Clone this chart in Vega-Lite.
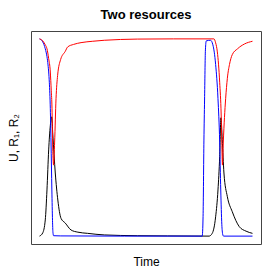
{
  "$schema": "https://vega.github.io/schema/vega-lite/v6.json",
  "width": 230,
  "height": 213,
  "autosize": {"type": "none"},
  "padding": {"left": 31, "top": 31, "right": 16, "bottom": 33},
  "background": "white",
  "config": {"view": {"stroke": "#444", "strokeWidth": 1}, "font": "Liberation Sans"},
  "title": {"text": "Two resources", "font": "Liberation Sans", "fontSize": 13, "fontWeight": "bold", "color": "black", "anchor": "middle", "baseline": "bottom", "frame": "group", "offset": 8, "dy": 12},
  "data": {"values": [
    {"s":"U","t":0,"v":0.0},{"s":"U","t":1.5,"v":0.016},{"s":"U","t":2.7,"v":0.082},{"s":"U","t":3.5,"v":0.234},{"s":"U","t":4.3,"v":0.437},{"s":"U","t":5.07,"v":0.56},{"s":"U","t":5.7,"v":0.605},{"s":"U","t":6.25,"v":0.513},{"s":"U","t":7.4,"v":0.32},{"s":"U","t":8.6,"v":0.183},{"s":"U","t":10.1,"v":0.09},{"s":"U","t":12.1,"v":0.066},{"s":"U","t":14.8,"v":0.031},{"s":"U","t":18,"v":0.02},{"s":"U","t":22.6,"v":0.014},{"s":"U","t":30.4,"v":0.006},{"s":"U","t":45.9,"v":0.002},{"s":"U","t":60,"v":0.001},{"s":"U","t":79.6,"v":0.0},{"s":"U","t":81.1,"v":0.014},{"s":"U","t":82.7,"v":0.098},{"s":"U","t":83.8,"v":0.234},{"s":"U","t":84.6,"v":0.403},{"s":"U","t":85.2,"v":0.6},{"s":"U","t":85.8,"v":0.49},{"s":"U","t":86.6,"v":0.32},{"s":"U","t":88.2,"v":0.2},{"s":"U","t":90.5,"v":0.124},{"s":"U","t":93.8,"v":0.048},{"s":"U","t":97,"v":0.025},{"s":"U","t":100,"v":0.014},
    {"s":"R1","t":0,"v":1.0},{"s":"R1","t":1.5,"v":0.985},{"s":"R1","t":2.7,"v":0.95},{"s":"R1","t":3.5,"v":0.91},{"s":"R1","t":4.0,"v":0.868},{"s":"R1","t":4.6,"v":0.78},{"s":"R1","t":5.07,"v":0.646},{"s":"R1","t":5.4,"v":0.477},{"s":"R1","t":5.8,"v":0.234},{"s":"R1","t":6.1,"v":0.08},{"s":"R1","t":6.3,"v":0.02},{"s":"R1","t":6.6,"v":0.002},{"s":"R1","t":10,"v":0.001},{"s":"R1","t":40,"v":0.0},{"s":"R1","t":76.4,"v":0.0},{"s":"R1","t":76.8,"v":0.1},{"s":"R1","t":77.2,"v":0.487},{"s":"R1","t":77.5,"v":0.69},{"s":"R1","t":77.9,"v":0.944},{"s":"R1","t":78.3,"v":0.99},{"s":"R1","t":80.3,"v":0.993},{"s":"R1","t":81.4,"v":0.97},{"s":"R1","t":82.7,"v":0.87},{"s":"R1","t":83.8,"v":0.697},{"s":"R1","t":84.6,"v":0.477},{"s":"R1","t":85.1,"v":0.234},{"s":"R1","t":85.6,"v":0.06},{"s":"R1","t":86.0,"v":0.01},{"s":"R1","t":86.4,"v":0.0},{"s":"R1","t":100,"v":0.0},
    {"s":"R2","t":0,"v":1.0},{"s":"R2","t":1.5,"v":0.99},{"s":"R2","t":2.7,"v":0.97},{"s":"R2","t":3.5,"v":0.95},{"s":"R2","t":4.3,"v":0.9},{"s":"R2","t":5.07,"v":0.832},{"s":"R2","t":5.5,"v":0.74},{"s":"R2","t":5.87,"v":0.646},{"s":"R2","t":6.15,"v":0.477},{"s":"R2","t":6.6,"v":0.36},{"s":"R2","t":7.1,"v":0.477},{"s":"R2","t":7.75,"v":0.697},{"s":"R2","t":8.5,"v":0.815},{"s":"R2","t":9.9,"v":0.895},{"s":"R2","t":12.1,"v":0.937},{"s":"R2","t":13.2,"v":0.959},{"s":"R2","t":16,"v":0.972},{"s":"R2","t":19.5,"v":0.981},{"s":"R2","t":25,"v":0.988},{"s":"R2","t":30.4,"v":0.993},{"s":"R2","t":38,"v":0.997},{"s":"R2","t":45.9,"v":0.999},{"s":"R2","t":63,"v":1.0},{"s":"R2","t":81.9,"v":1.0},{"s":"R2","t":82.7,"v":0.98},{"s":"R2","t":83.5,"v":0.934},{"s":"R2","t":84.6,"v":0.78},{"s":"R2","t":85.3,"v":0.614},{"s":"R2","t":85.6,"v":0.477},{"s":"R2","t":85.9,"v":0.36},{"s":"R2","t":86.3,"v":0.477},{"s":"R2","t":87.4,"v":0.697},{"s":"R2","t":88.2,"v":0.8},{"s":"R2","t":89.2,"v":0.87},{"s":"R2","t":90.5,"v":0.92},{"s":"R2","t":93.0,"v":0.95},{"s":"R2","t":96.2,"v":0.974},{"s":"R2","t":100,"v":0.988}
  ]},
  "encoding": {
    "x": {"field": "t", "type": "quantitative", "scale": {"domain": [-4, 104], "nice": false, "zero": false},
      "axis": {"title": "Time", "labels": false, "ticks": false, "domain": false, "grid": false, "titleFont": "Liberation Sans", "titleFontSize": 12, "titleFontWeight": "normal", "titleColor": "black", "titlePadding": 12}},
    "y": {"field": "v", "type": "quantitative", "scale": {"domain": [-0.04, 1.04], "nice": false, "zero": false},
      "axis": {"title": "U, R₁, R₂", "labels": false, "ticks": false, "domain": false, "grid": false, "titleFont": "Liberation Sans", "titleFontSize": 12, "titleFontWeight": "normal", "titleColor": "black", "titlePadding": 11}}
  },
  "layer": [
    {"transform": [{"filter": "datum.s === 'U'"}], "mark": {"type": "line", "color": "black", "strokeWidth": 1, "interpolate": "monotone"}},
    {"transform": [{"filter": "datum.s === 'R1'"}], "mark": {"type": "line", "color": "#0000FF", "strokeWidth": 1, "interpolate": "monotone"}},
    {"transform": [{"filter": "datum.s === 'R2'"}], "mark": {"type": "line", "color": "#FF0000", "strokeWidth": 1, "interpolate": "monotone"}}
  ]
}
